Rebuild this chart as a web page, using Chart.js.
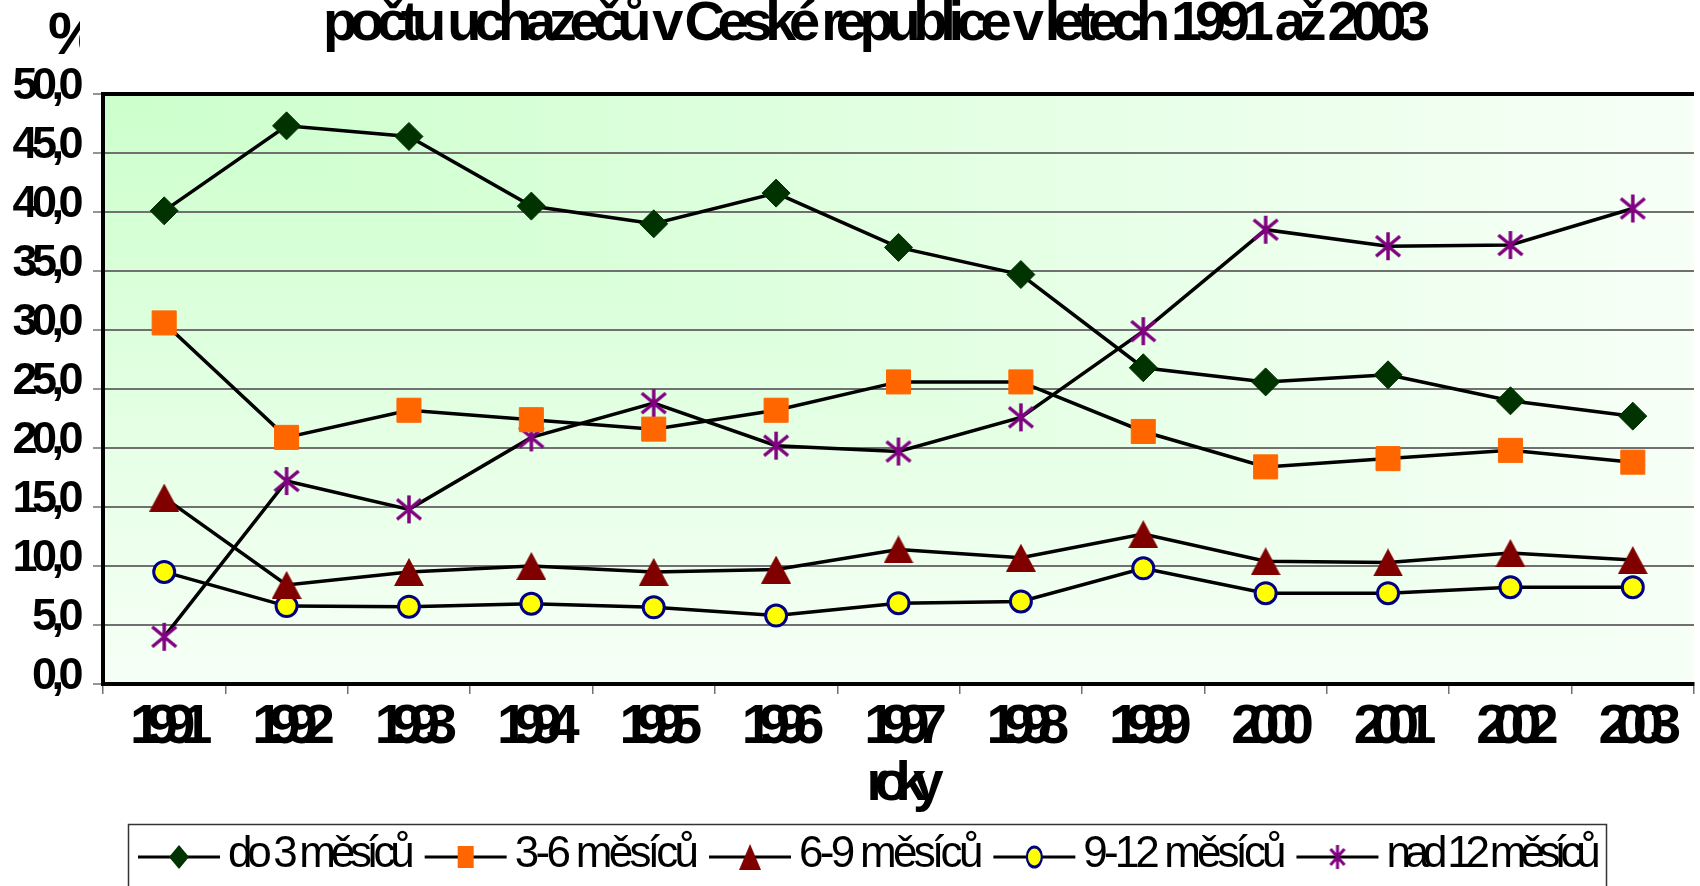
<!DOCTYPE html>
<html><head><meta charset="utf-8">
<script src="https://cdn.jsdelivr.net/npm/chart.js@4.4.1/dist/chart.umd.min.js"></script>
<style>
html,body{margin:0;padding:0;background:#fff;overflow:hidden;}
#wrap{position:absolute;left:0;top:0;width:1712px;height:886px;}
</style></head><body>
<div id="wrap"><canvas id="c"></canvas></div>
<script>
const titleText = 'počtu uchazečů v České republice v letech 1991 až 2003';
const xAxisTitle = 'roky';
const yUnit = '%';
const years = ['1991','1992','1993','1994','1995','1996','1997','1998','1999','2000','2001','2002','2003'];
const seriesNames = ['do 3 měsíců','3-6 měsíců','6-9 měsíců','9-12 měsíců','nad 12 měsíců'];
const do3 = [40.1, 47.3, 46.4, 40.5, 39.0, 41.6, 37.0, 34.7, 26.8, 25.6, 26.2, 24.0, 22.7];
const m3to6 = [30.6, 20.9, 23.2, 22.4, 21.6, 23.2, 25.6, 25.6, 21.4, 18.4, 19.1, 19.8, 18.8];
const m6to9 = [15.8, 8.4, 9.5, 10.0, 9.5, 9.7, 11.4, 10.7, 12.7, 10.4, 10.3, 11.1, 10.5];
const m9to12 = [9.5, 6.6, 6.55, 6.8, 6.5, 5.8, 6.85, 7.0, 9.8, 7.7, 7.7, 8.2, 8.2];
const nad12 = [4.0, 17.2, 14.8, 20.9, 23.8, 20.2, 19.7, 22.6, 29.9, 38.5, 37.1, 37.2, 40.3];
const yMin = 0, yMax = 50, yStep = 5;

const FONT = '"Liberation Sans", Arial, sans-serif';
Chart.defaults.font.family = FONT;
Chart.defaults.color = '#000';

function triImg(w, h, color){
  const c = document.createElement('canvas'); c.width = w; c.height = h;
  const g = c.getContext('2d'); g.fillStyle = color;
  g.beginPath(); g.moveTo(w/2, 0); g.lineTo(w, h); g.lineTo(0, h); g.closePath(); g.fill();
  return c;
}
function starImg(w, h, color, lw){
  const c = document.createElement('canvas'); c.width = w; c.height = h;
  const g = c.getContext('2d'); g.strokeStyle = color; g.lineWidth = lw; g.lineCap = 'butt';
  g.beginPath();
  g.moveTo(w/2, 1); g.lineTo(w/2, h-1);
  g.moveTo(3, 5); g.lineTo(w-3, h-5);
  g.moveTo(w-3, 5); g.lineTo(3, h-5);
  g.stroke();
  return c;
}
const triPt = triImg(30, 28, '#800000');
const starPt = starImg(30, 30, '#800080', 3.5);
const triLg = triImg(22, 26, '#800000');
const starLg = starImg(20, 26, '#800080', 3);

const styles = [
  {pointStyle:'rectRot', pointRadius:14, pointBackgroundColor:'#003300', pointBorderColor:'#003300', pointBorderWidth:1},
  {pointStyle:'rect', pointRadius:17, pointBackgroundColor:'#ff6600', pointBorderColor:'#ff6600', pointBorderWidth:1},
  {pointStyle:triPt, pointRadius:15, pointBackgroundColor:'#800000', pointBorderColor:'#800000', pointBorderWidth:0},
  {pointStyle:'circle', pointRadius:10.5, pointBackgroundColor:'#ffff00', pointBorderColor:'#000080', pointBorderWidth:3},
  {pointStyle:starPt, pointRadius:15, pointBackgroundColor:'#800080', pointBorderColor:'#800080', pointBorderWidth:0}
];
const seriesData = [do3, m3to6, m6to9, m9to12, nad12];
const legendSpacing = ['-5.3px', '-3.7px', '-3.7px', '-3.9px', '-6.2px'];

function patch(obj, method, ls, dx){
  if (!obj || obj['__patched_' + method]) return;
  const orig = obj[method];
  if (typeof orig !== 'function') return;
  obj[method] = function(...args){
    const c = this.ctx;
    c.save();
    c.letterSpacing = ls;
    if (dx) c.translate(dx, 0);
    try { return orig.apply(this, args); } finally { c.restore(); }
  };
  obj['__patched_' + method] = true;
}

const customPlugin = {
  id: 'custom',
  beforeDraw(chart){
    patch(chart.scales.x, 'drawLabels', '-14px');
    patch(chart.scales.x, 'drawTitle', '-13px');
    patch(chart.scales.y, 'drawLabels', '-5.5px');
    patch(chart.titleBlock, 'draw', '-7.3px', 19);
    const {ctx, chartArea:a} = chart;
    const W = a.right - a.left, H = a.bottom - a.top;
    const c0 = '#ccffcc', c1 = '#f7fff7';
    ctx.save();
    let gh = ctx.createLinearGradient(a.left, 0, a.right, 0);
    gh.addColorStop(0, c0); gh.addColorStop(1, c1);
    ctx.fillStyle = gh; ctx.fillRect(a.left, a.top, W, H);
    ctx.beginPath(); ctx.moveTo(a.left, a.top); ctx.lineTo(a.right, a.bottom); ctx.lineTo(a.left, a.bottom); ctx.closePath();
    ctx.clip();
    let gv = ctx.createLinearGradient(0, a.top, 0, a.bottom);
    gv.addColorStop(0, c0); gv.addColorStop(1, c1);
    ctx.fillStyle = gv; ctx.fillRect(a.left, a.top, W, H);
    ctx.restore();
  },
  afterDraw(chart){
    const ctx = chart.ctx;
    ctx.save();
    ctx.beginPath(); ctx.rect(0, 0, 80, 80); ctx.clip();
    ctx.font = 'bold 60px ' + FONT; ctx.fillStyle = '#000'; ctx.textBaseline = 'alphabetic'; ctx.textAlign = 'left';
    ctx.fillText(yUnit, 48, 54);
    ctx.restore();
    ctx.save();
    ctx.strokeStyle = '#333'; ctx.lineWidth = 1.5;
    ctx.strokeRect(128.5, 824.5, 1478, 100);
    ctx.font = '44px ' + FONT;
    ctx.textBaseline = 'middle'; ctx.textAlign = 'left'; ctx.fillStyle = '#000';
    const y = 857; let x = 138;
    chart.data.datasets.forEach((ds, i) => {
      ctx.strokeStyle = '#000'; ctx.lineWidth = 3;
      ctx.beginPath(); ctx.moveTo(x, y); ctx.lineTo(x + 82, y); ctx.stroke();
      const cx = x + 41;
      ctx.save();
      ctx.translate(cx, y);
      if (i === 0) { ctx.fillStyle = '#003300'; ctx.beginPath(); ctx.moveTo(-10, 0); ctx.lineTo(0, -12); ctx.lineTo(10, 0); ctx.lineTo(0, 12); ctx.closePath(); ctx.fill(); }
      else if (i === 1) { ctx.fillStyle = '#ff6600'; ctx.fillRect(-8, -11, 16, 22); }
      else if (i === 2) { ctx.drawImage(triLg, -11, -13); }
      else if (i === 3) { ctx.scale(0.75, 1); ctx.beginPath(); ctx.arc(0, 0, 10, 0, Math.PI*2); ctx.fillStyle = '#ffff00'; ctx.fill(); ctx.lineWidth = 3; ctx.strokeStyle = '#000080'; ctx.stroke(); }
      else { ctx.drawImage(starLg, -10, -13); }
      ctx.restore();
      const tx = x + 90;
      ctx.letterSpacing = legendSpacing[i];
      ctx.fillStyle = '#000';
      ctx.fillText(ds.label, tx, y - 2);
      const w = ctx.measureText(ds.label).width - parseFloat(legendSpacing[i]);
      x = tx + w + 10;
    });
    ctx.restore();
  }
};

const datasets = seriesNames.map((name, i) => Object.assign({
  label: name, data: seriesData[i], borderColor: '#000', borderWidth: 3.5, tension: 0, fill: false
}, styles[i]));

new Chart(document.getElementById('c'), {
  type: 'line',
  data: { labels: years, datasets },
  options: {
    responsive: true, maintainAspectRatio: false, animation: false,
    layout: { padding: { left: 0, right: 4, top: 0, bottom: 62 } },
    plugins: {
      legend: { display: false },
      tooltip: { enabled: false },
      title: { display: true, text: titleText, color: '#000', font: { size: 56, weight: 'bold', lineHeight: 1.2 }, padding: { top: -8.6, bottom: 35.4 } }
    },
    scales: {
      x: {
        offset: true,
        ticks: { font: { size: 56, weight: 'bold', lineHeight: 1.2 }, color: '#000', padding: 0, maxRotation: 0, minRotation: 0, autoSkip: false },
        grid: { offset: true, drawOnChartArea: false, drawTicks: true, tickLength: 10, color: '#707070', lineWidth: 1.5 },
        border: { display: true, color: '#000', width: 4 },
        title: { display: true, text: xAxisTitle, color: '#000', font: { size: 55, weight: 'bold', lineHeight: 1.2 }, padding: { top: 0, bottom: 6 } },
        afterFit(s) { s.height = 140; }
      },
      y: {
        min: yMin, max: yMax,
        ticks: { stepSize: yStep, font: { size: 45, weight: 'bold' }, color: '#000', padding: 15, labelOffset: -7,
          callback: v => Number(v).toFixed(1).replace('.', ',') },
        grid: {
          color: c => (c.tick && c.tick.value === yMax) ? '#000' : '#707070',
          lineWidth: c => (c.tick && c.tick.value === yMax) ? 4 : 2,
          tickColor: '#707070', tickWidth: 1.5, tickLength: 10, drawTicks: true
        },
        border: { display: true, color: '#000', width: 4 },
        afterFit(s) { s.width = 103; }
      }
    }
  },
  plugins: [customPlugin]
});
</script>
</body></html>
